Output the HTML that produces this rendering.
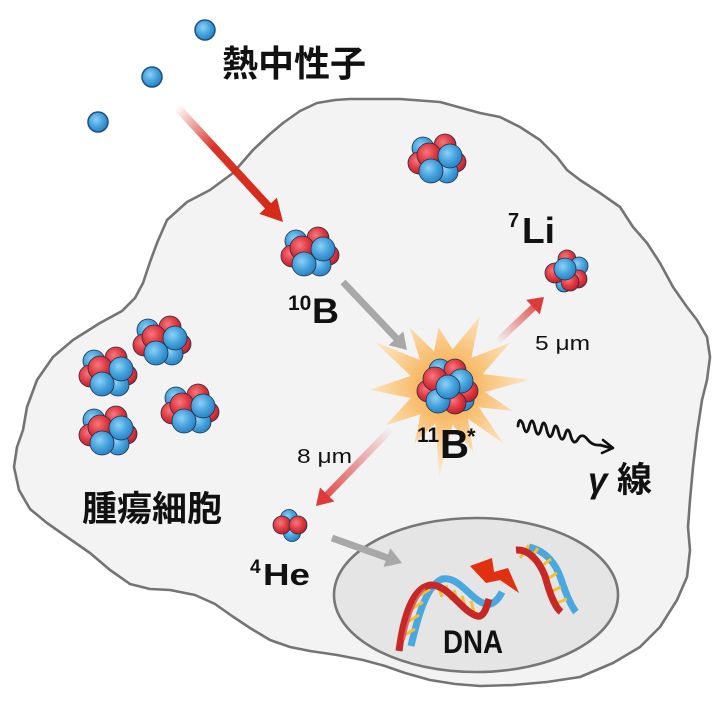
<!DOCTYPE html>
<html><head><meta charset="utf-8"><style>
html,body{margin:0;padding:0;background:#fff;}
svg{display:block;}
.t{font-family:"Liberation Sans","Noto Sans CJK JP",sans-serif;font-weight:700;fill:#111;}
.j{font-family:"Liberation Sans","Noto Sans CJK JP",sans-serif;font-weight:700;fill:#111;}
.r{font-family:"Liberation Sans",sans-serif;font-weight:400;fill:#111;}
</style></head><body>
<svg width="720" height="704" viewBox="0 0 720 704" xmlns="http://www.w3.org/2000/svg">
<defs>
<radialGradient id="gb" cx="0.4" cy="0.38" r="0.65"><stop offset="0" stop-color="#8fd0f4"/><stop offset="0.55" stop-color="#45a3dd"/><stop offset="1" stop-color="#2a7fc0"/></radialGradient>
<radialGradient id="gr" cx="0.4" cy="0.38" r="0.65"><stop offset="0" stop-color="#f47a7e"/><stop offset="0.55" stop-color="#e23a42"/><stop offset="1" stop-color="#b81e28"/></radialGradient>
<radialGradient id="burst" cx="447" cy="387" r="90" gradientUnits="userSpaceOnUse"><stop offset="0" stop-color="#f59a2c"/><stop offset="0.35" stop-color="#f8b964"/><stop offset="0.7" stop-color="#fbd6a0"/><stop offset="1" stop-color="#fdebd2"/></radialGradient>
<linearGradient id="na" x1="177" y1="107" x2="270" y2="207" gradientUnits="userSpaceOnUse"><stop offset="0" stop-color="#d62a1a" stop-opacity="0"/><stop offset="0.4" stop-color="#d62a1a" stop-opacity="0.95"/><stop offset="1" stop-color="#d62a1a"/></linearGradient>
<linearGradient id="la" x1="497" y1="342" x2="535" y2="306" gradientUnits="userSpaceOnUse"><stop offset="0" stop-color="#e04040" stop-opacity="0"/><stop offset="1" stop-color="#e04040" stop-opacity="0.85"/></linearGradient>
<linearGradient id="ha" x1="392" y1="428" x2="327" y2="495" gradientUnits="userSpaceOnUse"><stop offset="0" stop-color="#e04040" stop-opacity="0"/><stop offset="1" stop-color="#e04040" stop-opacity="0.9"/></linearGradient>
<g id="c10" stroke="#22304a" stroke-width="0.8">
<circle cx="-14" cy="-12" r="11" fill="url(#gb)"/>
<circle cx="8" cy="-15" r="11" fill="url(#gr)"/>
<circle cx="19" cy="2" r="10" fill="url(#gr)"/>
<circle cx="10" cy="12" r="11" fill="url(#gb)"/>
<circle cx="-18" cy="3" r="11" fill="url(#gr)"/>
<circle cx="-8" cy="-5" r="12" fill="url(#gr)"/>
<circle cx="-6" cy="11" r="12" fill="url(#gb)"/>
<circle cx="13" cy="-4" r="12" fill="url(#gb)"/>
</g>
</defs>

<!-- cell -->
<polygon fill="#f3f3f3" stroke="#747474" stroke-width="2.6" stroke-linejoin="round" points="187,202 210,190 233,173 253,150 270,134 283,123 300,111 317,103 335,100 350,99 400,99 440,102 480,113 500,117 520,127 540,140 557,157 567,170 580,180 600,193 620,207 633,227 647,243 660,263 673,287 687,307 697,320 707,337 710,357 707,380 702,400 697,433 693,467 690,500 688,527 690,550 687,577 677,600 660,627 640,647 613,663 580,677 547,682 513,685 480,686 455,684 430,680 405,673 385,666 363,660 337,655 310,651 290,647 270,640 250,628 232,616 215,604 195,595 170,590 150,589 130,584 110,570 90,553 67,537 47,523 30,509 19,490 14,467 17,447 23,430 27,407 37,380 53,357 73,340 100,323 122,311 135,298 143,283 150,262 157,243 167,220"/>

<!-- nucleus -->
<ellipse cx="476" cy="595" rx="142" ry="77" fill="#e5e5e5" stroke="#777" stroke-width="2.6"/>

<!-- neutrons -->
<g fill="url(#gb)" stroke="#1d4f8a" stroke-width="1.5">
<circle cx="205" cy="30" r="10"/>
<circle cx="152" cy="77" r="10"/>
<circle cx="98" cy="122" r="10"/>
</g>
<text class="j" x="222" y="76" font-size="36" textLength="144" lengthAdjust="spacingAndGlyphs">熱中性子</text>

<!-- neutron arrow -->
<line x1="177" y1="107" x2="270" y2="208" stroke="url(#na)" stroke-width="8"/>
<polygon points="283,222 259.3,213.9 276.9,197.7" fill="#d62a1a"/>

<!-- clusters -->
<use href="#c10" x="310" y="253"/>
<use href="#c10" x="437" y="160"/>
<use href="#c10" x="162" y="342"/>
<use href="#c10" x="108" y="373"/>
<use href="#c10" x="190" y="410"/>
<use href="#c10" x="108" y="432"/>

<!-- 10B label -->
<text class="t" x="288" y="310" font-size="21">10</text>
<text class="t" x="312" y="323" font-size="35" textLength="27" lengthAdjust="spacingAndGlyphs">B</text>

<!-- grey arrow 10B -> 11B -->
<line x1="343" y1="282" x2="397" y2="339" stroke="#a8a8a8" stroke-width="7"/>
<polygon points="407,350 388.7,345.2 403.3,331.4" fill="#a8a8a8"/>

<!-- starburst -->
<polygon fill="url(#burst)" opacity="0.95" points="529.7,379.8 484.7,392 512.8,410.9 479,407.4 503.6,443.6 468,418.7 473.2,451.9 452.6,424.6 439.2,476.6 435.6,423.2 414.5,443.3 420.6,414.3 385.9,425.2 410.7,398.1 370.1,389.7 410.7,375.9 374.9,341.9 420.1,360.1 409.9,327.6 434,351.3 438.7,327.6 452.6,349.4 480,316.3 471.4,357.9 510.1,342.8 482.7,374"/>

<!-- 11B cluster -->
<g transform="translate(448,388)" stroke="#22304a" stroke-width="0.8">
<circle cx="-8" cy="-18" r="11" fill="url(#gb)"/>
<circle cx="15" cy="12" r="11" fill="url(#gb)"/>
<circle cx="7" cy="-18" r="11" fill="url(#gr)"/>
<circle cx="-20" cy="3" r="11" fill="url(#gr)"/>
<circle cx="19" cy="3" r="11" fill="url(#gr)"/>
<circle cx="7" cy="15" r="11" fill="url(#gr)"/>
<circle cx="-13" cy="-9" r="12" fill="url(#gr)"/>
<circle cx="13" cy="-7" r="12" fill="url(#gb)"/>
<circle cx="-10" cy="13" r="12" fill="url(#gb)"/>
<circle cx="0" cy="-1" r="12" fill="url(#gb)"/>
</g>
<text class="t" x="417" y="442" font-size="21">11</text>
<text class="t" x="440" y="458" font-size="41" textLength="29" lengthAdjust="spacingAndGlyphs">B</text>
<text class="t" x="467" y="444" font-size="22">*</text>

<!-- 7Li -->
<line x1="497" y1="342" x2="535" y2="306" stroke="url(#la)" stroke-width="7"/>
<polygon points="544,297 539.8,314.5 526.2,299.9" fill="#df3a3a"/>
<g transform="translate(567,271)" stroke="#22304a" stroke-width="0.8">
<circle cx="0" cy="-12" r="9" fill="url(#gr)"/>
<circle cx="12" cy="-5" r="9" fill="url(#gb)"/>
<circle cx="-3" cy="13" r="8" fill="url(#gb)"/>
<circle cx="-12" cy="2" r="10" fill="url(#gr)"/>
<circle cx="11" cy="8" r="9" fill="url(#gr)"/>
<circle cx="3" cy="11" r="9" fill="url(#gr)"/>
<circle cx="-2" cy="-2" r="11" fill="url(#gb)"/>
</g>
<text class="t" x="508" y="227" font-size="20">7</text>
<text class="t" x="522" y="243" font-size="36" textLength="33" lengthAdjust="spacingAndGlyphs">Li</text>
<text class="r" x="535" y="350" font-size="20" textLength="55" lengthAdjust="spacingAndGlyphs">5 μm</text>

<!-- 4He -->
<line x1="392" y1="428" x2="327" y2="495" stroke="url(#ha)" stroke-width="7"/>
<polygon points="316,506 334.4,501.5 320,487.5" fill="#df3a3a"/>
<text class="r" x="297" y="463" font-size="20" textLength="55" lengthAdjust="spacingAndGlyphs">8 μm</text>
<g transform="translate(290,525)" stroke="#22304a" stroke-width="0.8">
<circle cx="-1" cy="-7" r="8.5" fill="url(#gb)"/>
<circle cx="2" cy="8" r="8.5" fill="url(#gb)"/>
<circle cx="-8" cy="0" r="9" fill="url(#gr)"/>
<circle cx="8" cy="0" r="9" fill="url(#gr)"/>
</g>
<text class="t" x="250" y="573" font-size="19">4</text>
<text class="t" x="263" y="585" font-size="31" textLength="47" lengthAdjust="spacingAndGlyphs">He</text>

<!-- grey arrow to nucleus -->
<line x1="332" y1="538" x2="388" y2="558" stroke="#a8a8a8" stroke-width="7"/>
<polygon points="402,563 383.5,567 390.3,548.2" fill="#a8a8a8"/>

<!-- tumor label -->
<text class="j" x="82" y="521" font-size="35" textLength="140" lengthAdjust="spacingAndGlyphs">腫瘍細胞</text>

<!-- gamma -->
<path d="M518,426 Q519,416 523,424 Q526,438 529,427 Q532,414 535,428 Q538,440 541,429 Q544,416 547,431 Q550,442 553,432 Q556,419 559,434 Q562,444 565,435 Q568,424 571,437 Q574,446 578,439 Q582,432 588,440 Q593,446 600,445 L611,448" fill="none" stroke="#111" stroke-width="2.8" stroke-linecap="round" stroke-linejoin="round"/>
<polyline points="603,440 613,448 602,453" fill="none" stroke="#111" stroke-width="2.6" stroke-linecap="round" stroke-linejoin="round"/>
<text class="j" x="588" y="492" font-size="35" font-style="italic" font-weight="400">γ</text>
<text class="j" x="617" y="492" font-size="35" textLength="35" lengthAdjust="spacingAndGlyphs">線</text>

<!-- DNA left helix -->
<g fill="none" stroke-linecap="butt">
<path d="M411,646 C419,612 427,586 442,579 C460,576 470,600 486,604 C493,606 499,598 502,592" stroke="#4aa8e0" stroke-width="7"/>
<g stroke="#f5c030" stroke-width="3">
<line x1="403" y1="636" x2="415" y2="629"/>
<line x1="406" y1="623" x2="419" y2="615"/>
<line x1="410" y1="610" x2="423" y2="602"/>
<line x1="416" y1="598" x2="430" y2="589"/>
<line x1="437" y1="583" x2="442" y2="597"/>
<line x1="446" y1="585" x2="451" y2="600"/>
<line x1="454" y1="590" x2="459" y2="606"/>
<line x1="462" y1="596" x2="467" y2="612"/>
<line x1="471" y1="601" x2="475" y2="616"/>
</g>
<path d="M399,651 C404,612 414,587 431,585 C449,585 461,611 477,616 C484,618 487,606 489,599" stroke="#c62828" stroke-width="7"/>
<path d="M404,640 C409,615 416,597 425,589" stroke="#e86060" stroke-width="2"/>
</g>
<!-- DNA right helix -->
<g fill="none" stroke-linecap="butt">
<path d="M529,547 C546,551 556,564 561,579 C566,594 571,606 576,612" stroke="#4aa8e0" stroke-width="7"/>
<g stroke="#f5c030" stroke-width="3">
<line x1="520" y1="558" x2="529" y2="545"/>
<line x1="530" y1="560" x2="538" y2="548"/>
<line x1="539" y1="568" x2="551" y2="559"/>
<line x1="544" y1="581" x2="557" y2="573"/>
<line x1="548" y1="593" x2="561" y2="587"/>
<line x1="554" y1="604" x2="567" y2="599"/>
</g>
<path d="M516,550 C529,549 539,561 545,576 C549,591 554,606 561,612" stroke="#c62828" stroke-width="7"/>
</g>
<!-- lightning -->
<polygon points="470,566 492,558 494,572 508,568 519,593 500,580 486,583" fill="#e03010"/>
<text class="t" x="443" y="653" font-size="32" textLength="60" lengthAdjust="spacingAndGlyphs">DNA</text>
</svg>
</body></html>
